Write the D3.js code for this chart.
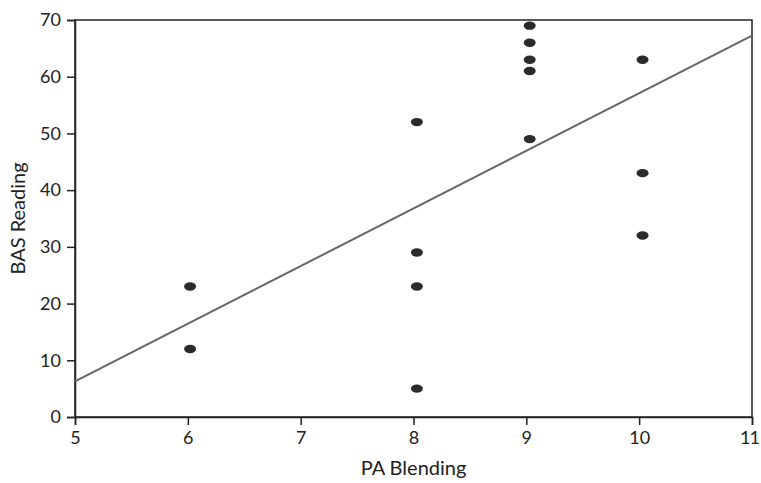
<!DOCTYPE html>
<html>
<head>
<meta charset="utf-8">
<script src="https://cdn.jsdelivr.net/npm/d3@7"></script>
<style>
  body { margin: 0; background: #fff; }
  text { font-family: Lato, "Open Sans", sans-serif; fill: #222; }
</style>
</head>
<body>
<div id="chart"></div>
<script>
// data
const paBlending = [6.02, 6.02, 8.03, 8.03, 8.03, 8.03, 9.03, 9.03, 9.03, 9.03, 9.03, 10.03, 10.03, 10.03];
const basReading = [23, 12, 52, 29, 23, 5, 69, 66, 63, 61, 49, 63, 43, 32];
const xTicks = [5, 6, 7, 8, 9, 10, 11];
const yTicks = [0, 10, 20, 30, 40, 50, 60, 70];

const margin = {top: 20, right: 9, bottom: 66, left: 75},
  width = 761 - margin.left - margin.right,
  height = 483 - margin.top - margin.bottom;

const svg = d3.select("#chart")
  .append("svg")
  .attr("width", 761)
  .attr("height", 483)
  .append("g")
  .attr("transform", "translate(" + margin.left + "," + margin.top + ")");

const x = d3.scaleLinear().domain([5, 11]).range([0, width]);
const y = d3.scaleLinear().domain([0, 70]).range([height, 0]);

// frame
svg.append("rect")
  .attr("width", width)
  .attr("height", height)
  .attr("fill", "none")
  .attr("stroke", "#222")
  .attr("stroke-width", 1.5);

const xAxis = svg.append("g")
  .attr("transform", "translate(0," + height + ")")
  .call(d3.axisBottom(x).tickValues(xTicks).tickSize(8).tickPadding(6).tickFormat(d3.format("d")));
const yAxis = svg.append("g")
  .call(d3.axisLeft(y).tickValues(yTicks).tickSize(8).tickPadding(6).tickFormat(d3.format("d")));

[xAxis, yAxis].forEach(a => {
  a.select(".domain").attr("stroke", "#222").attr("stroke-width", 1.5);
  a.selectAll(".tick line").attr("stroke", "#222").attr("stroke-width", 1.5);
  a.selectAll(".tick text").style("font-size", "18px").attr("fill", "#222");
});
// last label sits against the page edge
xAxis.selectAll(".tick text").filter(d => d === 11)
  .attr("dx", "-3px").style("letter-spacing", "-1px");

// least squares fit
const n = paBlending.length;
const mx = d3.mean(paBlending), my = d3.mean(basReading);
let sxy = 0, sxx = 0;
for (let i = 0; i < n; i++) {
  sxy += (paBlending[i] - mx) * (basReading[i] - my);
  sxx += (paBlending[i] - mx) ** 2;
}
const slope = sxy / sxx, icpt = my - slope * mx;

svg.append("line")
  .attr("x1", x(5)).attr("y1", y(icpt + slope * 5))
  .attr("x2", x(11)).attr("y2", y(icpt + slope * 11))
  .attr("stroke", "#666")
  .attr("stroke-width", 2);

// dots
svg.append("g")
  .selectAll("ellipse")
  .data(paBlending.map((d, i) => ({x: d, y: basReading[i]})))
  .enter()
  .append("ellipse")
    .attr("cx", d => x(d.x))
    .attr("cy", d => y(d.y))
    .attr("rx", 6)
    .attr("ry", 4.2)
    .attr("fill", "#2b2b2b");

// axis titles
svg.append("text")
  .attr("x", width / 2)
  .attr("y", height + 58)
  .attr("text-anchor", "middle")
  .style("font-size", "20px")
  .text("PA Blending");

svg.append("text")
  .attr("transform", "translate(" + (-50) + "," + (height / 2) + ") rotate(-90)")
  .attr("text-anchor", "middle")
  .style("font-size", "20px")
  .text("BAS Reading");
</script>
</body>
</html>
